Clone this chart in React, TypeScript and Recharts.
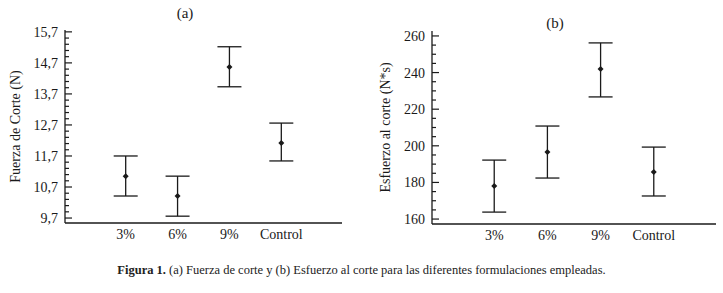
import React from "react";
import { ScatterChart, Scatter, XAxis, YAxis, ErrorBar } from "recharts";

const categories = ["3%", "6%", "9%", "Control"];

// (a) Fuerza de corte (N)
const fuerzaMean = [11.05, 10.41, 14.57, 12.12];
const fuerzaLow = [10.41, 9.76, 13.93, 11.54];
const fuerzaHigh = [11.7, 11.05, 15.22, 12.76];
const fuerzaMajor = [9.7, 10.7, 11.7, 12.7, 13.7, 14.7, 15.7];

// (b) Esfuerzo al corte (N*s)
const esfuerzoMean = [178, 196.6, 242, 185.7];
const esfuerzoLow = [163.8, 182.4, 226.7, 172.6];
const esfuerzoHigh = [192.2, 210.8, 256.2, 199.3];
const esfuerzoMajor = [160, 180, 200, 220, 240, 260];

const INK = "#1a1a1a";
const FONT = "'Liberation Serif', 'Times New Roman', serif";
const textStyle = { fontFamily: FONT, fontSize: 14, fill: INK };

function buildRows(mean: number[], low: number[], high: number[]) {
  return categories.map((c, i) => ({
    x: i + 1,
    name: c,
    y: mean[i],
    err: [mean[i] - low[i], high[i] - mean[i]],
  }));
}

// major ticks plus evenly spaced minor ticks between them
function withMinor(major: number[], parts: number) {
  const out: number[] = [];
  for (let i = 0; i < major.length; i++) {
    out.push(major[i]);
    if (i < major.length - 1) {
      const step = (major[i + 1] - major[i]) / parts;
      for (let k = 1; k < parts; k++) out.push(+(major[i] + step * k).toFixed(4));
    }
  }
  return out;
}

function Diamond(props: any) {
  const { cx, cy } = props;
  if (cx == null || cy == null) return null;
  const r = 3;
  return (
    <polygon
      points={`${cx},${cy - r} ${cx + r},${cy} ${cx},${cy + r} ${cx - r},${cy}`}
      fill={INK}
    />
  );
}

function XTick(props: any) {
  const { x, y, payload } = props;
  return (
    <text x={x} y={y} dy={11} textAnchor="middle" style={textStyle}>
      {categories[payload.value - 1] ?? ""}
    </text>
  );
}

function makeYTick(major: number[], fmt: (v: number) => string) {
  return function YTick(props: any) {
    const { x, y, payload } = props;
    const v = payload.value;
    const isMajor = major.some((m) => Math.abs(m - v) < 1e-6);
    return (
      <g>
        <line x1={x} x2={x + (isMajor ? 7 : 4)} y1={y} y2={y} stroke={INK} strokeWidth={1.2} />
        {isMajor && (
          <text x={x - 7} y={y} dy={5} textAnchor="end" style={textStyle}>
            {fmt(v)}
          </text>
        )}
      </g>
    );
  };
}

interface PanelProps {
  rows: { x: number; name: string; y: number; err: number[] }[];
  domain: [number, number];
  major: number[];
  parts: number;
  fmt: (v: number) => string;
  yLabel: string;
  width: number;
  marginLeft: number;
  marginRight: number;
  marginTop: number;
  marginBottom: number;
  labelOffset: number;
}

function Panel(p: PanelProps) {
  const ticks = withMinor(p.major, p.parts);
  const YTick = makeYTick(p.major, p.fmt);
  return (
    <ScatterChart
      width={p.width}
      height={260}
      margin={{ top: p.marginTop, right: p.marginRight, bottom: p.marginBottom, left: p.marginLeft }}
    >
      <XAxis
        type="number"
        dataKey="x"
        height={30}
        domain={[-0.17, 5.17]}
        ticks={[1, 2, 3, 4]}
        tickLine={false}
        tickSize={0}
        tickMargin={5}
        axisLine={{ stroke: INK, strokeWidth: 1.3 }}
        tick={<XTick />}
        allowDataOverflow
      />
      <YAxis
        type="number"
        dataKey="y"
        width={60}
        domain={p.domain}
        ticks={ticks}
        interval={0}
        tickLine={false}
        tickSize={0}
        tickMargin={0}
        axisLine={{ stroke: INK, strokeWidth: 1.3 }}
        tick={<YTick />}
        allowDataOverflow
        label={{
          value: p.yLabel,
          angle: -90,
          position: "insideLeft",
          offset: p.labelOffset,
          style: { ...textStyle, textAnchor: "middle" },
        }}
      />
      <Scatter data={p.rows} shape={<Diamond />} isAnimationActive={false}>
        <ErrorBar dataKey="err" direction="y" width={12} stroke={INK} strokeWidth={1.3} />
      </Scatter>
    </ScatterChart>
  );
}

export default function App() {
  return (
    <div
      style={{
        position: "absolute",
        left: 0,
        top: 0,
        width: 723,
        height: 293,
        background: "#fff",
        fontFamily: FONT,
        color: INK,
      }}
    >
      <div style={{ position: "absolute", left: 0, top: 0 }}>
        <Panel
          rows={buildRows(fuerzaMean, fuerzaLow, fuerzaHigh)}
          domain={[9.54, 15.76]}
          major={fuerzaMajor}
          parts={5}
          fmt={(v) => v.toFixed(1).replace(".", ",")}
          yLabel="Fuerza de Corte (N)"
          width={360}
          marginLeft={5}
          marginRight={18}
          marginTop={30}
          marginBottom={7}
          labelOffset={10}
        />
      </div>
      <div style={{ position: "absolute", left: 360, top: 0 }}>
        <Panel
          rows={buildRows(esfuerzoMean, esfuerzoLow, esfuerzoHigh)}
          domain={[157.3, 262.7]}
          major={esfuerzoMajor}
          parts={4}
          fmt={(v) => String(Math.round(v))}
          yLabel="Esfuerzo al corte (N*s)"
          width={363}
          marginLeft={12}
          marginRight={7}
          marginTop={31}
          marginBottom={6}
          labelOffset={13}
        />
      </div>
      <div
        style={{ position: "absolute", left: 170, top: 5, width: 30, textAlign: "center", fontSize: 15, fontFamily: FONT }}
      >
        (a)
      </div>
      <div
        style={{ position: "absolute", left: 540, top: 15, width: 30, textAlign: "center", fontSize: 15, fontFamily: FONT }}
      >
        (b)
      </div>
      <div
        style={{
          position: "absolute",
          left: 0,
          top: 263,
          width: 723,
          textAlign: "center",
          fontSize: 12.5,
          color: "#222",
          fontFamily: FONT,
        }}
      >
        <b>Figura 1.</b> (a) Fuerza de corte y (b) Esfuerzo al corte para las diferentes formulaciones empleadas.
      </div>
    </div>
  );
}
